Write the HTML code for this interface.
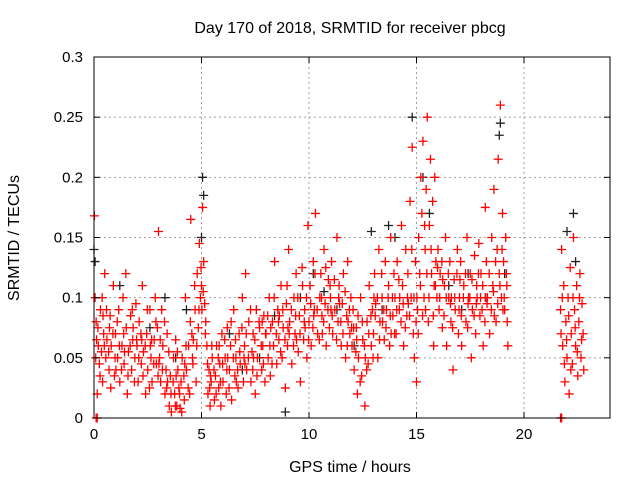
<!DOCTYPE html>
<html><head><meta charset="utf-8"><style>
body{margin:0;background:#fff}
svg{display:block;font-family:"Liberation Sans",sans-serif}
</style></head><body>
<svg id="chart" width="640" height="480" viewBox="0 0 640 480">
<text x="350" y="33" font-size="16" text-anchor="middle" fill="#000">Day 170 of 2018, SRMTID for receiver pbcg</text>
<text x="350" y="472" font-size="16" text-anchor="middle">GPS time / hours</text>
<text transform="translate(19,238) rotate(-90)" font-size="16" text-anchor="middle">SRMTID / TECUs</text>
<g id="grid"></g><g id="pts"></g><g id="axes"></g>
</svg>
<script>
const xTicks=[0,5,10,15,20];
const yTicks=[0,0.05,0.1,0.15,0.2,0.25,0.3];
const yTickLabels=["0","0.05","0.1","0.15","0.2","0.25","0.3"];
const redPoints=[[0.02,.168],[0.05,.1],[0.1,.08],[0.15,.02],[0.2,.06],[0.25,.045],[0.3,.09],[0.35,.055],[0.4,.03],[0.45,.07],[0.5,.12],[0.55,.05],[0.6,.065],[0.7,.04],[0.75,.085],[0.8,.06],[0.9,.11],[0.95,.035],
[1.0,.07],[1.1,.05],[1.15,.09],[1.2,.03],[1.3,.06],[1.35,.1],[1.4,.045],[1.5,.075],[1.55,.02],[1.6,.055],[1.7,.085],[1.75,.04],[1.8,.065],[1.9,.05],[1.95,.095],
[2.0,.06],[2.05,.03],[2.1,.08],[2.2,.045],[2.25,.11],[2.3,.055],[2.4,.02],[2.45,.07],[2.5,.04],[2.6,.09],[2.65,.05],[2.7,.03],[2.8,.065],[2.85,.1],[2.9,.045],[2.95,.075],
[3.0,.155],[3.05,.05],[3.1,.03],[3.15,.09],[3.2,.06],[3.3,.02],[3.35,.04],[3.4,.07],[3.5,.01],[3.55,.035],[3.6,.005],[3.7,.05],[3.75,.02],[3.8,.065],[3.85,.01],[3.9,.04],[3.95,.025],
[4.0,.008],[4.05,.03],[4.1,.05],[4.2,.015],[4.25,.1],[4.3,.04],[4.4,.06],[4.45,.02],[4.5,.165],[4.55,.07],[4.6,.045],[4.7,.09],[4.75,.03],[4.8,.12],[4.85,.075],[4.9,.145],[4.95,.1],
[5.0,.11],[5.05,.175],[5.1,.13],[5.15,.095],[5.2,.08],[5.25,.06],[5.3,.02],[5.35,.04],[5.4,.01],[5.45,.03],[5.5,.05],[5.6,.015],[5.65,.035],[5.7,.06],[5.8,.025],[5.85,.045],[5.9,.01],[5.95,.07],
[6.0,.03],[6.1,.05],[6.15,.02],[6.2,.075],[6.3,.04],[6.35,.06],[6.4,.015],[6.5,.09],[6.55,.035],[6.6,.05],[6.7,.025],[6.75,.07],[6.8,.045],[6.9,.1],[6.95,.03],
[7.0,.06],[7.05,.12],[7.1,.04],[7.2,.08],[7.3,.03],[7.35,.055],[7.4,.07],[7.5,.02],[7.55,.09],[7.6,.05],[7.7,.075],[7.8,.04],[7.85,.06],[7.9,.085],[7.95,.03],
[8.0,.07],[8.1,.05],[8.15,.1],[8.2,.035],[8.3,.08],[8.35,.06],[8.4,.13],[8.5,.045],[8.55,.09],[8.6,.065],[8.7,.11],[8.75,.05],[8.8,.075],[8.9,.025],[8.95,.095],
[9.0,.06],[9.05,.14],[9.1,.08],[9.2,.045],[9.3,.1],[9.35,.07],[9.4,.12],[9.5,.055],[9.55,.085],[9.6,.03],[9.7,.11],[9.75,.065],[9.8,.09],[9.9,.05],[9.95,.16],
[10.0,.08],[10.05,.11],[10.1,.06],[10.2,.13],[10.25,.09],[10.3,.17],[10.4,.07],[10.5,.1],[10.55,.12],[10.6,.085],[10.7,.14],[10.75,.095],[10.8,.06],[10.9,.115],[10.95,.075],
[11.0,.1],[11.05,.13],[11.1,.07],[11.2,.09],[11.3,.15],[11.35,.08],[11.4,.11],[11.5,.06],[11.55,.095],[11.6,.12],[11.7,.05],[11.75,.085],[11.8,.13],[11.9,.07],[11.95,.1],
[12.0,.06],[12.05,.09],[12.1,.04],[12.2,.075],[12.25,.02],[12.3,.05],[12.4,.1],[12.45,.035],[12.5,.065],[12.6,.01],[12.7,.08],[12.75,.045],[12.8,.11],[12.9,.06],[12.95,.09],
[13.0,.07],[13.05,.12],[13.1,.095],[13.2,.05],[13.25,.14],[13.3,.08],[13.4,.1],[13.5,.065],[13.55,.13],[13.6,.09],[13.7,.11],[13.75,.06],[13.8,.15],[13.9,.085],[13.95,.12],
[14.0,.1],[14.05,.07],[14.1,.13],[14.2,.09],[14.3,.16],[14.35,.11],[14.4,.06],[14.5,.14],[14.55,.085],[14.6,.12],[14.7,.18],[14.75,.1],[14.8,.225],[14.85,.07],[14.9,.05],[14.95,.13],
[15.0,.03],[15.05,.09],[15.1,.15],[15.15,.12],[15.2,.2],[15.25,.17],[15.3,.23],[15.35,.1],[15.4,.14],[15.45,.19],[15.5,.25],[15.55,.08],[15.6,.16],[15.65,.215],[15.7,.12],[15.75,.18],[15.8,.06],[15.85,.2],[15.9,.13],[15.95,.1],
[16.0,.14],[16.05,.09],[16.1,.12],[16.2,.075],[16.3,.11],[16.35,.15],[16.4,.06],[16.5,.1],[16.55,.13],[16.6,.08],[16.7,.04],[16.75,.115],[16.8,.09],[16.9,.14],[16.95,.07],
[17.0,.1],[17.05,.13],[17.1,.06],[17.2,.11],[17.3,.08],[17.35,.15],[17.4,.095],[17.5,.12],[17.55,.05],[17.6,.09],[17.7,.135],[17.75,.07],[17.8,.11],[17.9,.145],[17.95,.085],
[18.0,.12],[18.05,.09],[18.1,.06],[18.2,.175],[18.25,.13],[18.3,.1],[18.4,.07],[18.5,.15],[18.55,.11],[18.6,.19],[18.7,.08],[18.75,.14],[18.8,.215],[18.85,.12],[18.9,.26],[18.95,.1],[19.0,.17],[19.05,.13],[19.1,.09],[19.15,.15],[19.2,.11],[19.25,.06],
[21.7,.09],[21.75,.14],[21.8,.06],[21.85,.11],[21.9,.03],[21.95,.08],[22.0,.05],[22.05,.1],[22.1,.02],[22.15,.125],[22.2,.07],[22.25,.045],[22.3,.15],[22.35,.09],[22.4,.06],[22.45,.11],[22.5,.035],[22.55,.08],[22.6,.12],[22.65,.05],[22.7,.095],[22.75,.07],
[0.1,0],[0.15,0],[21.7,0],[21.75,0]];
const redPoints2=[[0.08,.05],[0.18,.075],[0.28,.035],[0.38,.1],[0.48,.06],[0.58,.09],[0.68,.055],[0.78,.025],[0.88,.07],[0.98,.05],
[1.08,.08],[1.18,.06],[1.28,.04],[1.38,.07],[1.48,.12],[1.58,.035],[1.68,.06],[1.78,.09],[1.88,.03],[1.98,.065],
[2.08,.05],[2.18,.07],[2.28,.035],[2.38,.06],[2.48,.09],[2.58,.025],[2.68,.065],[2.78,.045],[2.88,.08],[2.98,.035],
[3.08,.065],[3.18,.04],[3.28,.08],[3.38,.025],[3.48,.055],[3.58,.02],[3.68,.03],[3.78,.01],[3.88,.055],[3.98,.02],
[4.08,.005],[4.18,.035],[4.28,.06],[4.38,.025],[4.48,.08],[4.58,.05],[4.68,.11],[4.78,.06],[4.88,.09],[4.98,.125],
[5.08,.105],[5.18,.07],[5.28,.045],[5.38,.025],[5.48,.06],[5.58,.04],[5.68,.02],[5.78,.05],[5.88,.03],[5.98,.045],
[6.08,.065],[6.18,.04],[6.28,.025],[6.38,.08],[6.48,.05],[6.58,.065],[6.68,.04],[6.78,.055],[6.88,.075],[6.98,.05],
[7.08,.07],[7.18,.05],[7.28,.09],[7.38,.04],[7.48,.065],[7.58,.035],[7.68,.08],[7.78,.06],[7.88,.045],[7.98,.07],
[8.08,.085],[8.18,.06],[8.28,.045],[8.38,.1],[8.48,.07],[8.58,.08],[8.68,.055],[8.78,.09],[8.88,.065],[8.98,.11],
[9.08,.07],[9.18,.09],[9.28,.06],[9.38,.085],[9.48,.1],[9.58,.07],[9.68,.125],[9.78,.08],[9.88,.1],[9.98,.065],
[10.08,.095],[10.18,.075],[10.28,.12],[10.38,.09],[10.48,.065],[10.58,.1],[10.68,.08],[10.78,.125],[10.88,.09],[10.98,.11],
[11.08,.085],[11.18,.115],[11.28,.065],[11.38,.1],[11.48,.08],[11.58,.07],[11.68,.105],[11.78,.06],[11.88,.09],[11.98,.075],
[12.08,.075],[12.18,.055],[12.28,.085],[12.38,.03],[12.48,.08],[12.58,.06],[12.68,.04],[12.78,.07],[12.88,.085],[12.98,.05],
[13.08,.085],[13.18,.1],[13.28,.065],[13.38,.12],[13.48,.09],[13.58,.075],[13.68,.1],[13.78,.085],[13.88,.1],[13.98,.07],
[14.08,.09],[14.18,.115],[14.28,.08],[14.38,.095],[14.48,.075],[14.58,.1],[14.68,.085],[14.78,.14],[14.88,.1],[14.98,.08],
[15.08,.07],[15.18,.11],[15.28,.085],[15.38,.16],[15.48,.12],[15.58,.1],[15.68,.14],[15.78,.085],[15.88,.11],[15.98,.125],
[16.08,.1],[16.18,.13],[16.28,.085],[16.38,.1],[16.48,.12],[16.58,.095],[16.68,.075],[16.78,.1],[16.88,.12],[16.98,.09],
[17.08,.085],[17.18,.1],[17.28,.12],[17.38,.075],[17.48,.1],[17.58,.115],[17.68,.085],[17.78,.095],[17.88,.12],[17.98,.1],
[18.08,.11],[18.18,.08],[18.28,.095],[18.38,.12],[18.48,.09],[18.58,.105],[18.68,.13],[18.78,.095],[18.88,.11],[18.98,.14],
[19.08,.1],[19.18,.12],[19.22,.08],
[21.72,.07],[21.78,.1],[21.88,.045],[21.98,.065],[22.08,.085],[22.18,.04],[22.28,.1],[22.38,.075],[22.48,.055],[22.58,.1],[22.68,.065],[22.78,.04],
[0.12,.065],[0.42,.085],[0.72,.075],[1.02,.04],[1.42,.055],[1.82,.075],[2.22,.065],[2.62,.06],[3.02,.045],[3.42,.03],[3.82,.035],[4.22,.045],[4.62,.065],[5.02,.09],[5.42,.035],[5.82,.06],[6.22,.05],[6.62,.03],[7.02,.045],[7.42,.05],[7.82,.08],[8.22,.075],[8.62,.085],[9.02,.075],[9.42,.065],[9.82,.075],[10.22,.085],[10.62,.07],[11.02,.09],[11.42,.095],[11.82,.08],[12.22,.065],[12.62,.05],[13.02,.1],[13.42,.08],[13.82,.07],[14.22,.1],[14.62,.095],[15.02,.1],[15.42,.09],[15.82,.11],[16.22,.115],[16.62,.1],[17.02,.115],[17.42,.1],[17.82,.1],[18.22,.1],[18.62,.085],[19.02,.09]];
const blackPoints=[[0.0,.14],[0.05,.13],[1.2,.11],[2.6,.075],[3.8,.05],[4.3,.09],[5.05,.2],[5.1,.185],[5.0,.15],[6.3,.07],[7.7,.05],[8.4,.085],[9.6,.1],[10.2,.12],[11.3,.09],[12.1,.06],[12.9,.155],[13.4,.09],[14.0,.15],[14.8,.25],[15.3,.2],[15.6,.17],[16.5,.11],[17.4,.12],[18.2,.1],[18.9,.245],[18.85,.235],[19.1,.12],[22.0,.155],[22.3,.17],[22.4,.13],[3.3,.1],[6.9,.04],[8.9,.005],[10.7,.105],[13.7,.16],[17.1,.09]];
const L=94,R=610,T=57,B=418,XMAX=24,YMAX=0.3;
const sx=v=>L+v/XMAX*(R-L), sy=v=>B-v/YMAX*(B-T);
const NS="http://www.w3.org/2000/svg";
function mk(tag,attrs,parent){const e=document.createElementNS(NS,tag);for(const k in attrs)e.setAttribute(k,attrs[k]);parent.appendChild(e);return e;}
const grid=document.getElementById('grid'),axes=document.getElementById('axes'),pts=document.getElementById('pts');
xTicks.forEach(t=>{const x=sx(t);
 if(t>0){const g=mk('line',{x1:x,y1:T,x2:x,y2:B,stroke:'#a0a0a0','stroke-dasharray':'2,3'},grid);
 
 }
 mk('line',{x1:x,y1:B,x2:x,y2:B-6,stroke:'#000'},axes);mk('line',{x1:x,y1:T,x2:x,y2:T+6,stroke:'#000'},axes);
 const tx=mk('text',{x:x,y:B+21,'font-size':15,'text-anchor':'middle'},axes);tx.textContent=t;
 
 });
yTicks.forEach((t,i)=>{const y=sy(t);
 if(t>0&&t<YMAX){const g=mk('line',{x1:L,y1:y,x2:R,y2:y,stroke:'#a0a0a0','stroke-dasharray':'2,3'},grid);
 
 }
 mk('line',{x1:L,y1:y,x2:L+6,y2:y,stroke:'#000'},axes);mk('line',{x1:R,y1:y,x2:R-6,y2:y,stroke:'#000'},axes);
 const tx=mk('text',{x:L-11,y:y+5,'font-size':15,'text-anchor':'end'},axes);tx.textContent=yTickLabels[i];
 
 });
const frame=mk('rect',{x:L,y:T,width:R-L,height:B-T,fill:'none',stroke:'#000'},axes);


function cross(p,col,name){const x=sx(p[0]),y=sy(p[1]);
 const e=mk('path',{d:`M${x-4.5},${y}h9M${x},${y-4.5}v9`,stroke:col,'stroke-width':1.3,fill:'none'},pts);
 
 }
blackPoints.forEach(p=>cross(p,'#222','black-point'));
redPoints.forEach(p=>cross(p,'#f00','red-point'));
redPoints2.forEach(p=>cross(p,'#f00','red-point'));
</script>
</body></html>
